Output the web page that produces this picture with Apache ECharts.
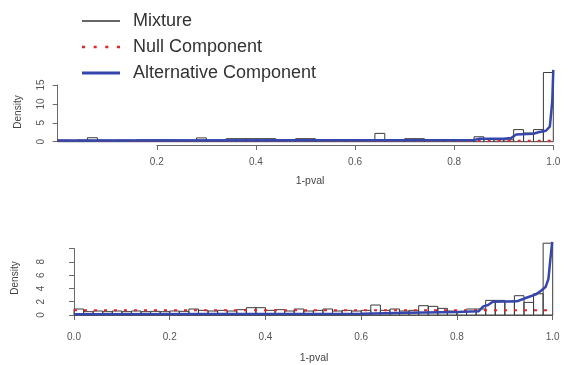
<!DOCTYPE html>
<html>
<head>
<meta charset="utf-8">
<script src="https://cdn.jsdelivr.net/npm/echarts@6/dist/echarts.min.js"></script>
<style>html,body{margin:0;padding:0;background:#fff}#c{width:568px;height:365px}</style>
</head>
<body>
<div id="c"></div>
<script>
// Histogram bin breaks (shared by both panels)
var breaks = [0,0.02,0.04,0.06,0.08,0.10,0.12,0.14,0.16,0.18,0.20,0.22,0.24,0.26,0.28,0.30,0.32,0.34,0.36,0.38,0.40,0.42,0.44,0.46,0.48,0.50,0.52,0.54,0.56,0.58,0.60,0.62,0.64,0.66,0.68,0.70,0.72,0.74,0.76,0.78,0.80,0.82,0.84,0.86,0.88,0.90,0.92,0.94,0.96,0.98,1.00];

// Top panel: mixture histogram densities
var topHist = [0.4,0.3,0.4,1.05,0.4,0.35,0.4,0.35,0.5,0.5,0.5,0.45,0.4,0.35,1.0,0.4,0.4,0.8,0.8,0.8,0.8,0.8,0.4,0.4,0.8,0.8,0.4,0.4,0.35,0.4,0.4,0.4,2.2,0.4,0.4,0.8,0.8,0.4,0.4,0.4,0.4,0.4,1.3,0.6,0.5,0.5,3.2,2.3,3.2,18.3];
// Top panel: alternative component density
var topAltX = [0,0.5,0.84,0.85,0.9,0.915,0.925,0.96,0.97,0.985,0.993,0.996,0.998,1.0];
var topAltY = [0.35,0.4,0.45,0.75,0.8,1.0,1.9,2.1,2.5,2.9,4,8,11,19];
// Top panel: null component density
var topNullX = [0,1];
var topNullY = [0.25,0.25];

// Bottom panel: mixture histogram densities
var botHist = [0.9,0.5,0.6,0.5,0.6,0.5,0.6,0.5,0.55,0.5,0.6,0.55,0.9,0.7,0.6,0.7,0.6,0.8,1.1,1.1,0.7,0.8,0.6,0.9,0.6,0.7,0.9,0.6,0.7,0.6,0.7,1.5,0.7,0.9,0.6,0.7,1.4,1.3,1.0,0.6,0.5,0.9,0.9,2.2,2.2,2.0,2.9,1.9,3.2,10.8];
// Bottom panel: alternative component density
var botAltX = [0,0.3,0.6,0.7,0.8,0.845,0.855,0.865,0.875,0.925,0.945,0.965,0.975,0.985,0.991,0.996,0.999];
var botAltY = [0.12,0.15,0.2,0.35,0.45,0.55,1.3,1.5,2.0,2.05,2.6,3.1,3.6,4.2,5.4,9,11];
// Bottom panel: null component density
var botNullX = [0,1];
var botNullY = [0.7,0.7];

// Axis tick labels
var topYTicks = [0,5,10,15];
var botYTicks = [0,2,4,6,8];
var xTickLabels = ['0.0','0.2','0.4','0.6','0.8','1.0'];

function histData(h){ var d=[]; for(var i=0;i<h.length;i++){ d.push([breaks[i],breaks[i+1],h[i]]); } return d; }
function pairs(xs,ys){ var d=[]; for(var i=0;i<xs.length;i++){ d.push([xs[i],ys[i]]); } return d; }
function renderBar(params, api){
  var p0 = api.coord([api.value(0), api.value(2)]);
  var p1 = api.coord([api.value(1), 0]);
  return {type:'rect', shape:{x:p0[0], y:p0[1], width:p1[0]-p0[0], height:p1[1]-p0[1]},
          style:{fill:'none', stroke:'#3a3a3a', lineWidth:1}};
}

var FONT = 'Liberation Sans, Arial, sans-serif';
var axisCol = '#6a6a6a', labCol = '#555';
var RED = '#e3242b', BLUE = '#3546ad';
function xLab(v){ var i = Math.round(v*5); return xTickLabels[i]; }

var chart = echarts.init(document.getElementById('c'), null, {renderer:'canvas'});
chart.setOption({
  animation:false,
  backgroundColor:'#fff',
  legend:{
    orient:'vertical', left:77, top:7, itemWidth:38, itemHeight:14, itemGap:8,
    textStyle:{fontFamily:FONT, fontSize:18, color:'#333', padding:[0,0,0,8]},
    data:[
      {name:'Mixture', icon:'path://M0,0H38V1.4H0Z', itemStyle:{color:'#333', borderWidth:0}},
      {name:'Null Component', icon:'path://M0,0h3v2.6h-3zM11.5,0h3v2.6h-3zM23,0h3v2.6h-3zM34.5,0h3v2.6h-3z', itemStyle:{color:RED, borderWidth:0}},
      {name:'Alternative Component', icon:'path://M0,0H38V3H0Z', itemStyle:{color:BLUE, borderWidth:0}}
    ]
  },
  grid:[
    {left:57.7, right:14.7, top:85, bottom:223.3},
    {left:156.8, right:14.7, top:85, bottom:220},
    {left:74, right:15.3, top:248.5, bottom:50}
  ],
  xAxis:[
    {gridIndex:0, type:'value', min:0, max:1, show:false},
    {gridIndex:1, type:'value', min:0.2, max:1.0, interval:0.2, splitLine:{show:false},
     axisLine:{lineStyle:{color:axisCol}}, axisTick:{length:5, lineStyle:{color:axisCol}},
     axisLabel:{margin:12, color:labCol, fontSize:10, fontFamily:FONT, formatter:xLab, showMinLabel:true, showMaxLabel:true}},
    {gridIndex:2, type:'value', min:0, max:1, interval:0.2, offset:3, splitLine:{show:false},
     axisLine:{lineStyle:{color:axisCol}}, axisTick:{length:5, lineStyle:{color:axisCol}},
     axisLabel:{margin:14, color:labCol, fontSize:10, fontFamily:FONT, formatter:xLab, showMinLabel:true, showMaxLabel:true}}
  ],
  yAxis:[
    {gridIndex:0, type:'value', min:0, max:15, interval:5, splitLine:{show:false},
     axisLine:{show:true, lineStyle:{color:axisCol}}, axisTick:{show:true, length:5, lineStyle:{color:axisCol}},
     axisLabel:{rotate:90, margin:11, color:labCol, fontSize:10, fontFamily:FONT, align:'center', verticalAlign:'bottom',
       formatter:function(v){ return topYTicks.indexOf(v)>=0 ? String(v) : ''; }}},
    {gridIndex:1, type:'value', min:0, max:15, show:false},
    {gridIndex:2, type:'value', min:0, max:10, interval:2, offset:22, splitLine:{show:false},
     axisLine:{show:true, lineStyle:{color:axisCol}}, axisTick:{show:true, length:5, lineStyle:{color:axisCol}},
     axisLabel:{rotate:90, margin:6, color:labCol, fontSize:10, fontFamily:FONT, align:'center', verticalAlign:'bottom',
       formatter:function(v){ return botYTicks.indexOf(v)>=0 ? String(v) : ''; }}}
  ],
  series:[
    {name:'Mixture', type:'custom', xAxisIndex:0, yAxisIndex:0, clip:false, renderItem:renderBar,
     encode:{x:[0,1], y:2}, data:histData(topHist), itemStyle:{color:'#333'}, z:2},
    {name:'Null Component', type:'line', xAxisIndex:0, yAxisIndex:0, clip:false, symbol:'none', showSymbol:false,
     lineStyle:{color:RED, width:2, type:[3,7]}, itemStyle:{color:RED}, data:pairs(topNullX, topNullY), z:3},
    {name:'Alternative Component', type:'line', xAxisIndex:0, yAxisIndex:0, clip:false, symbol:'none', showSymbol:false,
     lineStyle:{color:BLUE, width:2.5}, itemStyle:{color:BLUE}, data:pairs(topAltX, topAltY), z:4},
    {name:'Mixture', type:'custom', xAxisIndex:2, yAxisIndex:2, clip:false, renderItem:renderBar,
     encode:{x:[0,1], y:2}, data:histData(botHist), itemStyle:{color:'#333'}, z:2},
    {name:'Null Component', type:'line', xAxisIndex:2, yAxisIndex:2, clip:false, symbol:'none', showSymbol:false,
     lineStyle:{color:RED, width:2, type:[3,7]}, itemStyle:{color:RED}, data:pairs(botNullX, botNullY), z:3},
    {name:'Alternative Component', type:'line', xAxisIndex:2, yAxisIndex:2, clip:false, symbol:'none', showSymbol:false,
     lineStyle:{color:BLUE, width:2.5}, itemStyle:{color:BLUE}, data:pairs(botAltX, botAltY), z:4}
  ],
  graphic:[
    {type:'text', x:18, y:112, rotation:Math.PI/2, style:{text:'Density', font:'10px '+FONT, fill:'#444', align:'center', verticalAlign:'middle'}},
    {type:'text', x:15, y:278, rotation:Math.PI/2, style:{text:'Density', font:'10px '+FONT, fill:'#444', align:'center', verticalAlign:'middle'}},
    {type:'text', x:310, y:181, style:{text:'1-pval', font:'10.5px '+FONT, fill:'#444', align:'center', verticalAlign:'middle'}},
    {type:'text', x:314, y:358, style:{text:'1-pval', font:'10.5px '+FONT, fill:'#444', align:'center', verticalAlign:'middle'}}
  ]
});
</script>
</body>
</html>
